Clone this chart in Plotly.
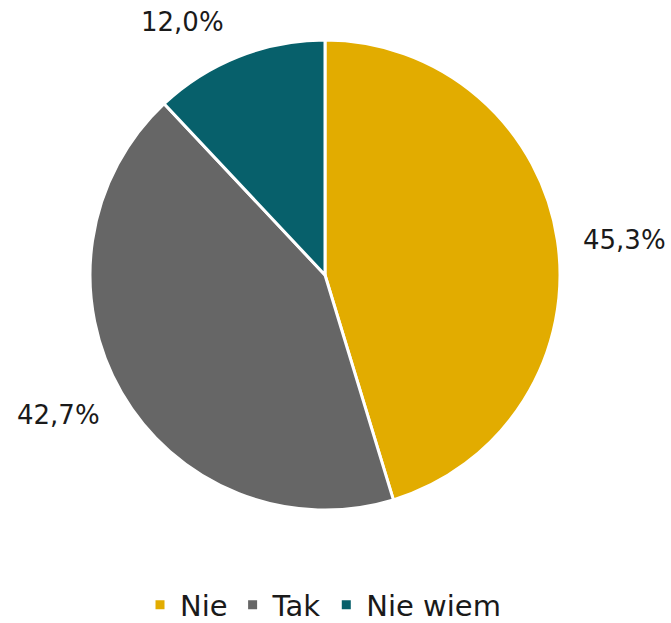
import plotly.graph_objects as go

categories = ["Nie", "Tak", "Nie wiem"]
values = [45.3, 42.7, 12.0]
colors = ["#E2AC00", "#666666", "#07606B"]
label_text = [f"{v:.1f}%".replace(".", ",") for v in values]

# label positions (paper coords) for outside data labels
label_pos = [(1.138, 0.574), (-0.068, 0.202), (0.196, 1.038)]

fig = go.Figure(go.Pie(
    labels=categories, values=values, sort=False, direction="clockwise", rotation=0,
    marker=dict(colors=colors, line=dict(color="white", width=3)),
    textinfo="none", hoverinfo="label+percent",
    domain=dict(x=[0, 1], y=[0, 1]),
))
for t, (x, y) in zip(label_text, label_pos):
    fig.add_annotation(x=x, y=y, xref="paper", yref="paper", text=t, showarrow=False,
                       xanchor="center", yanchor="middle",
                       font=dict(size=26, color="#1a1a1a", family="DejaVu Sans"))

fig.update_layout(
    width=671, height=623,
    margin=dict(l=90, r=111, t=40, b=113, autoexpand=False),
    paper_bgcolor="white", plot_bgcolor="white",
    font=dict(family="DejaVu Sans", size=26, color="#1a1a1a"),
    legend=dict(orientation="h", x=0.1064, xanchor="left", y=-0.202, yanchor="middle",
                font=dict(size=29), traceorder="normal"),
)
fig.write_html("out.html", config={"displayModeBar": False},
               post_script="document.body.style.margin='0';document.body.style.overflow='hidden';")
